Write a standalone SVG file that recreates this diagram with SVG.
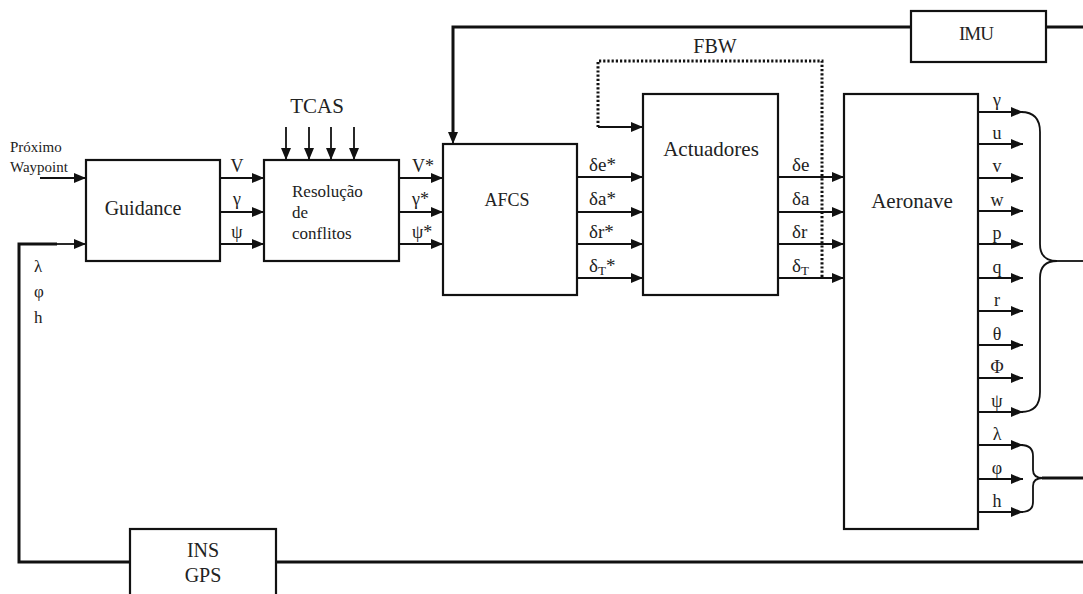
<svg xmlns="http://www.w3.org/2000/svg" width="1083" height="594" viewBox="0 0 1083 594" font-family="'Liberation Serif', 'DejaVu Serif', 'Times New Roman', serif">
<style>
.box{fill:#fff;stroke:#111;stroke-width:2.2}
text{font-family:"Liberation Serif","DejaVu Serif","Times New Roman",serif;fill:#222}
.c{stroke:#111;stroke-width:1.8;fill:none}
.th{stroke:#111;stroke-width:3;fill:none}
.dot{stroke:#111;stroke-width:3;fill:none;stroke-dasharray:2.2,2}
.lbl{font-size:18px}
</style>
<defs>
<marker id="ah" markerUnits="userSpaceOnUse" markerWidth="12" markerHeight="10" refX="12" refY="5" orient="auto">
<path d="M0,0 L12,5 L0,10 Z" fill="#111"/>
</marker>
</defs>

<g id="connectors">
<path class="c" d="M40,178 H86" marker-end="url(#ah)"/>
<path class="th" d="M130,562 H19 V244 H57"/>
<path class="c" d="M56,244 H86" marker-end="url(#ah)"/>
<path class="c" d="M220,178 H264" marker-end="url(#ah)"/>
<path class="c" d="M220,212 H264" marker-end="url(#ah)"/>
<path class="c" d="M220,244 H264" marker-end="url(#ah)"/>
<path class="c" d="M286,127 V160" marker-end="url(#ah)"/>
<path class="c" d="M309,127 V160" marker-end="url(#ah)"/>
<path class="c" d="M331,127 V160" marker-end="url(#ah)"/>
<path class="c" d="M354,127 V160" marker-end="url(#ah)"/>
<path class="c" d="M399,178 H443" marker-end="url(#ah)"/>
<path class="c" d="M399,212 H443" marker-end="url(#ah)"/>
<path class="c" d="M399,244 H443" marker-end="url(#ah)"/>
<path class="th" d="M1083,27 H1046"/>
<path class="th" d="M911,27 H453 V132"/>
<path class="c" d="M453,130 V144" marker-end="url(#ah)"/>
<path class="c" d="M577,177 H643" marker-end="url(#ah)"/>
<path class="c" d="M577,212 H643" marker-end="url(#ah)"/>
<path class="c" d="M577,244 H643" marker-end="url(#ah)"/>
<path class="c" d="M577,278 H643" marker-end="url(#ah)"/>
<path class="dot" d="M822,277 V61 H598 V127"/>
<path class="c" d="M598,127 H643" marker-end="url(#ah)"/>
<path class="c" d="M778,177 H844" marker-end="url(#ah)"/>
<path class="c" d="M778,212 H844" marker-end="url(#ah)"/>
<path class="c" d="M778,244 H844" marker-end="url(#ah)"/>
<path class="c" d="M778,278 H844" marker-end="url(#ah)"/>
<path class="c" d="M978,112 H1023" marker-end="url(#ah)"/>
<path class="c" d="M978,144 H1023" marker-end="url(#ah)"/>
<path class="c" d="M978,178 H1023" marker-end="url(#ah)"/>
<path class="c" d="M978,211 H1023" marker-end="url(#ah)"/>
<path class="c" d="M978,244 H1023" marker-end="url(#ah)"/>
<path class="c" d="M978,278 H1023" marker-end="url(#ah)"/>
<path class="c" d="M978,311 H1023" marker-end="url(#ah)"/>
<path class="c" d="M978,345 H1023" marker-end="url(#ah)"/>
<path class="c" d="M978,378 H1023" marker-end="url(#ah)"/>
<path class="c" d="M978,412 H1023" marker-end="url(#ah)"/>
<path class="c" d="M978,445 H1023" marker-end="url(#ah)"/>
<path class="c" d="M978,479 H1023" marker-end="url(#ah)"/>
<path class="c" d="M978,512 H1023" marker-end="url(#ah)"/>
<path class="c" d="M1021,112 Q1040,112 1040,132 V244 Q1040,261 1057,261 M1057,261 Q1040,261 1040,278 V392 Q1040,412 1021,412"/>
<path class="c" stroke-width="2.4" d="M1056,261 H1083"/>
<path class="c" d="M1021,445 Q1033,445 1033,456 V470 Q1033,478 1043,478 Q1033,478 1033,486 V502 Q1033,512 1021,512"/>
<path class="th" d="M1042,478 H1083"/>
<path class="th" d="M276,562 H1083"/>
</g>

<g id="guidance">
<rect class="box" x="86" y="160" width="134" height="101"/>
<text x="143" y="215" font-size="20" text-anchor="middle">Guidance</text>
</g>
<g id="resolucao">
<rect class="box" x="264" y="160" width="135" height="101"/>
<text x="292" y="197" font-size="17">Resolução</text>
<text x="292" y="218" font-size="17">de</text>
<text x="292" y="239" font-size="17">conflitos</text>
</g>
<g id="afcs">
<rect class="box" x="443" y="144" width="134" height="151"/>
<text x="507" y="206" font-size="18" text-anchor="middle">AFCS</text>
</g>
<g id="actuadores">
<rect class="box" x="643" y="94" width="135" height="201"/>
<text x="711" y="156" font-size="21" text-anchor="middle">Actuadores</text>
</g>
<g id="aeronave">
<rect class="box" x="844" y="94" width="134" height="435"/>
<text x="912" y="208" font-size="21" text-anchor="middle">Aeronave</text>
</g>
<g id="imu">
<rect class="box" stroke-width="3" x="911" y="11" width="135" height="51"/>
<text x="976" y="40" font-size="19" text-anchor="middle" letter-spacing="-1">IMU</text>
</g>
<g id="ins-gps">
<rect class="box" stroke-width="3" x="130" y="529" width="146" height="70"/>
<text x="203" y="557" font-size="20" text-anchor="middle">INS</text>
<text x="203" y="582" font-size="20" text-anchor="middle">GPS</text>
</g>

<g id="labels">
<text x="10" y="152" font-size="15">Próximo</text>
<text x="10" y="172" font-size="15">Waypoint</text>
<text x="317" y="113" font-size="21" text-anchor="middle">TCAS</text>
<text x="715" y="53" font-size="20" text-anchor="middle">FBW</text>
<text class="lbl" x="237" y="172" text-anchor="middle">V</text>
<text class="lbl" x="237" y="205" text-anchor="middle">γ</text>
<text class="lbl" x="237" y="238" text-anchor="middle">ψ</text>
<text class="lbl" x="412" y="172">V*</text>
<text class="lbl" x="412" y="205">γ*</text>
<text class="lbl" x="412" y="238">ψ*</text>
<text font-size="19" x="589" y="171">δe*</text>
<text font-size="19" x="589" y="205">δa*</text>
<text font-size="19" x="589" y="238">δr*</text>
<text font-size="19" x="589" y="272">δ<tspan font-size="13" dy="3">T</tspan><tspan dy="-3">*</tspan></text>
<text font-size="19" x="792" y="171">δe</text>
<text font-size="19" x="792" y="205">δa</text>
<text font-size="19" x="792" y="238">δr</text>
<text font-size="19" x="792" y="272">δ<tspan font-size="13" dy="3">T</tspan></text>
<text font-size="17" x="34" y="272">λ</text>
<text font-size="17" x="34" y="297">φ</text>
<text font-size="17" x="34" y="323">h</text>
<g class="lbl" text-anchor="middle">
<text x="997" y="106">γ</text>
<text x="997" y="139">u</text>
<text x="997" y="172">v</text>
<text x="997" y="206">w</text>
<text x="997" y="239">p</text>
<text x="997" y="273">q</text>
<text x="997" y="306">r</text>
<text x="997" y="340">θ</text>
<text x="997" y="373">Φ</text>
<text x="997" y="407">ψ</text>
<text x="997" y="440">λ</text>
<text x="997" y="474">φ</text>
<text x="997" y="507">h</text>
</g>
</g>
</svg>
